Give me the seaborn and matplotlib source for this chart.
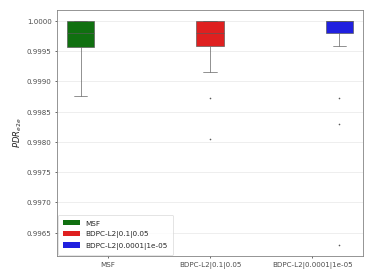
import matplotlib
matplotlib.use("Agg")
import matplotlib.pyplot as plt
import matplotlib.patches as mpatches
import seaborn as sns
import pandas as pd

# PDR values per configuration
msf = [0.99876, 0.99940, 0.99956, 0.99970, 0.99979, 0.99990, 1.0, 1.0, 1.0]
bdpc_a = [0.99805, 0.99872, 0.99915, 0.99958, 0.99960, 0.99970, 0.99979,
          0.99990, 0.99995, 1.0, 1.0, 1.0, 1.0]
bdpc_b = [0.99630, 0.99829, 0.99873, 0.99958, 0.99979, 0.99985, 0.99990,
          0.99995, 1.0, 1.0, 1.0, 1.0, 1.0, 1.0, 1.0, 1.0, 1.0]
labels = ["MSF", "BDPC-L2|0.1|0.05", "BDPC-L2|0.0001|1e-05"]
colors = ["green", "red", "blue"]

df = pd.concat([
    pd.DataFrame({"alg": labels[0], "pdr": msf}),
    pd.DataFrame({"alg": labels[1], "pdr": bdpc_a}),
    pd.DataFrame({"alg": labels[2], "pdr": bdpc_b}),
])

sns.set_theme(style="whitegrid", context="paper")
plt.rcParams.update({
    "axes.edgecolor": "0.5",
    "xtick.bottom": True,
    "ytick.left": True,
    "xtick.major.size": 3,
    "ytick.major.size": 3,
    "xtick.color": "0.3",
    "ytick.color": "0.3",
    "grid.color": "0.9",
})

fig, ax = plt.subplots(figsize=(6.4, 4.8), dpi=58.44)
pal = dict(zip(labels, colors))
sns.boxplot(data=df, x="alg", y="pdr", hue="alg", dodge=True, order=labels,
            hue_order=labels, palette=pal, whis=1.95, legend=False,
            fliersize=1, linewidth=0.8, linecolor="0.35", ax=ax)
ax.set_xlabel("")
ax.set_ylabel("$PDR_{e2e}$", fontsize=10.5)
ax.grid(axis="x", visible=False)

handles = [mpatches.Patch(facecolor=sns.desaturate(pal[l], 0.75), edgecolor="none",
                          label=l) for l in labels]
ax.legend(handles=handles, loc="lower left", handlelength=2.3,
          handleheight=0.8, labelspacing=0.6, borderpad=0.7,
          borderaxespad=0.15, fontsize=9)
fig.subplots_adjust(left=0.152, right=0.971, top=0.964, bottom=0.086)
fig.savefig("out.png", dpi=58.44)
